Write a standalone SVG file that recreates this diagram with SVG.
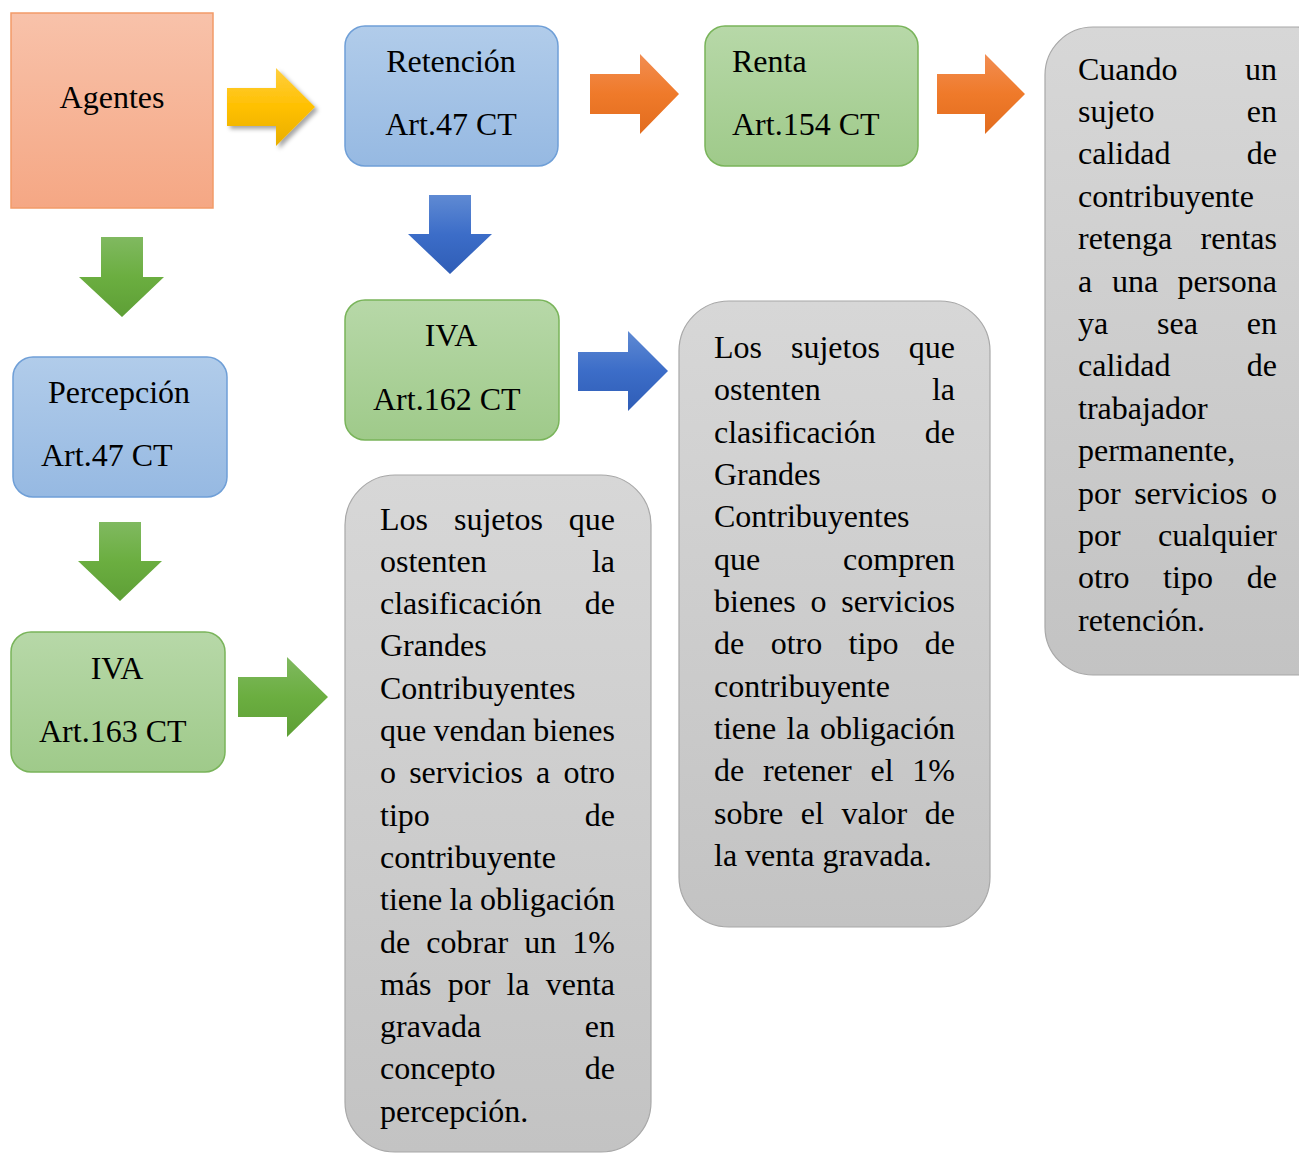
<svg xmlns="http://www.w3.org/2000/svg" width="1299" height="1154" viewBox="0 0 1299 1154">
  <defs>
    <linearGradient id="gPeach" x1="0" y1="0" x2="0" y2="1">
      <stop offset="0" stop-color="#F8C2AA"/>
      <stop offset="1" stop-color="#F5A784"/>
    </linearGradient>
    <linearGradient id="gBlueBox" x1="0" y1="0" x2="0" y2="1">
      <stop offset="0" stop-color="#B1CCEA"/>
      <stop offset="1" stop-color="#96B9E2"/>
    </linearGradient>
    <linearGradient id="gGreenBox" x1="0" y1="0" x2="0" y2="1">
      <stop offset="0" stop-color="#B7D8A8"/>
      <stop offset="1" stop-color="#9FCA8A"/>
    </linearGradient>
    <linearGradient id="gGray" x1="0" y1="0" x2="0" y2="1">
      <stop offset="0" stop-color="#D7D7D7"/>
      <stop offset="1" stop-color="#C3C3C3"/>
    </linearGradient>
    <linearGradient id="gYellow" x1="0" y1="0" x2="0" y2="1">
      <stop offset="0" stop-color="#FFCF40"/>
      <stop offset="0.5" stop-color="#FFC000"/>
      <stop offset="1" stop-color="#E8AE00"/>
    </linearGradient>
    <linearGradient id="gOrange" x1="0" y1="0" x2="0" y2="1">
      <stop offset="0" stop-color="#F28D52"/>
      <stop offset="0.5" stop-color="#EF7A2A"/>
      <stop offset="1" stop-color="#E26C1E"/>
    </linearGradient>
    <linearGradient id="gGreen" x1="0" y1="0" x2="0" y2="1">
      <stop offset="0" stop-color="#80B960"/>
      <stop offset="0.5" stop-color="#6BAE40"/>
      <stop offset="1" stop-color="#5E9F36"/>
    </linearGradient>
    <linearGradient id="gBlue" x1="0" y1="0" x2="0" y2="1">
      <stop offset="0" stop-color="#5F8AD3"/>
      <stop offset="0.5" stop-color="#3C6DC8"/>
      <stop offset="1" stop-color="#2F5DB6"/>
    </linearGradient>
    <filter id="shadow" x="-20%" y="-20%" width="150%" height="150%">
      <feDropShadow dx="3" dy="3" stdDeviation="2" flood-color="#000" flood-opacity="0.35"/>
    </filter>
  </defs>
  <style>
    text { font-family: "Liberation Serif", "Times New Roman", serif; font-size: 32px; fill: #000; }
    .peach { fill: url(#gPeach); stroke: #F29B68; stroke-width: 1.5; }
    .blue { fill: url(#gBlueBox); stroke: #6F9FD7; stroke-width: 1.5; }
    .green { fill: url(#gGreenBox); stroke: #79B45A; stroke-width: 1.5; }
    .gray { fill: url(#gGray); stroke: #A8A8A8; stroke-width: 1.2; }
    .c { text-anchor: middle; }
    .e { text-anchor: end; }
  </style>

  <!-- block arrows between the boxes -->
  <g id="connectors">
    <path d="M227,88 H276 V68 L315,107 L276,146 V126 H227 Z" fill="url(#gYellow)" filter="url(#shadow)"/>
    <path d="M590,74 H640 V54 L679,94 L640,134 V114 H590 Z" fill="url(#gOrange)"/>
    <path d="M937,74 H985 V54 L1025,94 L985,134 V114 H937 Z" fill="url(#gOrange)"/>
    <path d="M101,237 H143 V277 H164 L122,317 L79,277 H101 Z" fill="url(#gGreen)"/>
    <path d="M99,522 H141 V561 H162 L120,601 L78,561 H99 Z" fill="url(#gGreen)"/>
    <path d="M238,677 H287 V657 L328,697 L287,737 V717 H238 Z" fill="url(#gGreen)"/>
    <path d="M429,195 H471 V234 H492 L450,274 L408,234 H429 Z" fill="url(#gBlue)"/>
    <path d="M578,352 H628 V331 L668,371 L628,411 V391 H578 Z" fill="url(#gBlue)"/>
  </g>

  <g id="agentes">
    <rect class="peach" x="11" y="13" width="202" height="195"/>
    <text class="c" x="112" y="108">Agentes</text>
  </g>

  <g id="retencion">
    <rect class="blue" x="345" y="26" width="213" height="140" rx="20"/>
    <text class="c" x="451" y="72">Retención</text>
    <text class="c" x="451" y="135">Art.47 CT</text>
  </g>

  <g id="renta">
    <rect class="green" x="705" y="26" width="213" height="140" rx="20"/>
    <text x="732" y="72">Renta</text>
    <text x="732" y="135">Art.154 CT</text>
  </g>

  <g id="percepcion">
    <rect class="blue" x="13" y="357" width="214" height="140" rx="20"/>
    <text class="c" x="119" y="403">Percepción</text>
    <text x="41" y="466">Art.47 CT</text>
  </g>

  <g id="iva163">
    <rect class="green" x="11" y="632" width="214" height="140" rx="20"/>
    <text class="c" x="117" y="679">IVA</text>
    <text x="39" y="742">Art.163 CT</text>
  </g>

  <g id="iva162">
    <rect class="green" x="345" y="300" width="214" height="140" rx="20"/>
    <text class="c" x="451" y="346">IVA</text>
    <text x="373" y="410">Art.162 CT</text>
  </g>

  <!-- description for Renta (justified, 1078..1277) -->
  <g id="desc-renta">
    <rect class="gray" x="1045" y="27" width="300" height="648" rx="48"/>
    <text y="79.5"><tspan x="1078">Cuando</tspan><tspan class="e" x="1277">un</tspan></text>
    <text y="121.9"><tspan x="1078">sujeto</tspan><tspan class="e" x="1277">en</tspan></text>
    <text y="164.3"><tspan x="1078">calidad</tspan><tspan class="e" x="1277">de</tspan></text>
    <text y="206.7" x="1078">contribuyente</text>
    <text y="249.1"><tspan x="1078">retenga</tspan><tspan class="e" x="1277">rentas</tspan></text>
    <text y="291.5"><tspan x="1078">a</tspan><tspan class="c" x="1135">una</tspan><tspan class="e" x="1277">persona</tspan></text>
    <text y="333.9"><tspan x="1078">ya</tspan><tspan class="c" x="1177.5">sea</tspan><tspan class="e" x="1277">en</tspan></text>
    <text y="376.3"><tspan x="1078">calidad</tspan><tspan class="e" x="1277">de</tspan></text>
    <text y="418.7" x="1078">trabajador</text>
    <text y="461.1" x="1078">permanente,</text>
    <text y="503.5"><tspan x="1078">por</tspan><tspan class="c" x="1191">servicios</tspan><tspan class="e" x="1277">o</tspan></text>
    <text y="545.9"><tspan x="1078">por</tspan><tspan class="e" x="1277">cualquier</tspan></text>
    <text y="588.3"><tspan x="1078">otro</tspan><tspan class="c" x="1188">tipo</tspan><tspan class="e" x="1277">de</tspan></text>
    <text y="630.7" x="1078">retención.</text>
  </g>

  <!-- description for IVA Art.162 (justified, 714..955) -->
  <g id="desc-iva162">
    <rect class="gray" x="679" y="301" width="311" height="626" rx="50"/>
    <text y="358"><tspan x="714">Los</tspan><tspan class="c" x="835.4">sujetos</tspan><tspan class="e" x="955">que</tspan></text>
    <text y="400.3"><tspan x="714">ostenten</tspan><tspan class="e" x="955">la</tspan></text>
    <text y="442.7"><tspan x="714">clasificación</tspan><tspan class="e" x="955">de</tspan></text>
    <text y="485" x="714">Grandes</text>
    <text y="527.3" x="714">Contribuyentes</text>
    <text y="569.7"><tspan x="714">que</tspan><tspan class="e" x="955">compren</tspan></text>
    <text y="612"><tspan x="714">bienes</tspan><tspan class="c" x="818.5">o</tspan><tspan class="e" x="955">servicios</tspan></text>
    <text y="654.3"><tspan x="714">de</tspan><tspan class="c" x="796.4">otro</tspan><tspan class="c" x="873.5">tipo</tspan><tspan class="e" x="955">de</tspan></text>
    <text y="696.7" x="714">contribuyente</text>
    <text y="739"><tspan x="714">tiene</tspan><tspan class="c" x="798.1">la</tspan><tspan class="e" x="955">obligación</tspan></text>
    <text y="781.3"><tspan x="714">de</tspan><tspan class="c" x="807.3">retener</tspan><tspan class="c" x="882">el</tspan><tspan class="e" x="955">1%</tspan></text>
    <text y="823.7"><tspan x="714">sobre</tspan><tspan class="c" x="812.4">el</tspan><tspan class="c" x="874.4">valor</tspan><tspan class="e" x="955">de</tspan></text>
    <text y="866" x="714">la venta gravada.</text>
  </g>

  <!-- description for IVA Art.163 (justified, 380..615) -->
  <g id="desc-iva163">
    <rect class="gray" x="345" y="475" width="306" height="677" rx="50"/>
    <text y="529.5"><tspan x="380">Los</tspan><tspan class="c" x="498.4">sujetos</tspan><tspan class="e" x="615">que</tspan></text>
    <text y="571.8"><tspan x="380">ostenten</tspan><tspan class="e" x="615">la</tspan></text>
    <text y="614.1"><tspan x="380">clasificación</tspan><tspan class="e" x="615">de</tspan></text>
    <text y="656.4" x="380">Grandes</text>
    <text y="698.7" x="380">Contribuyentes</text>
    <text y="741"><tspan x="380">que</tspan><tspan class="c" x="479.7">vendan</tspan><tspan class="e" x="615">bienes</tspan></text>
    <text y="783.3"><tspan x="380">o</tspan><tspan class="c" x="466">servicios</tspan><tspan class="c" x="543.2">a</tspan><tspan class="e" x="615">otro</tspan></text>
    <text y="825.6"><tspan x="380">tipo</tspan><tspan class="e" x="615">de</tspan></text>
    <text y="867.9" x="380">contribuyente</text>
    <text y="910.2"><tspan x="380">tiene</tspan><tspan class="c" x="461.1">la</tspan><tspan class="e" x="615">obligación</tspan></text>
    <text y="952.5"><tspan x="380">de</tspan><tspan class="c" x="467.2">cobrar</tspan><tspan class="c" x="540.2">un</tspan><tspan class="e" x="615">1%</tspan></text>
    <text y="994.8"><tspan x="380">más</tspan><tspan class="c" x="469">por</tspan><tspan class="c" x="518">la</tspan><tspan class="e" x="615">venta</tspan></text>
    <text y="1037.1"><tspan x="380">gravada</tspan><tspan class="e" x="615">en</tspan></text>
    <text y="1079.4"><tspan x="380">concepto</tspan><tspan class="e" x="615">de</tspan></text>
    <text y="1121.7" x="380">percepción.</text>
  </g>
</svg>
